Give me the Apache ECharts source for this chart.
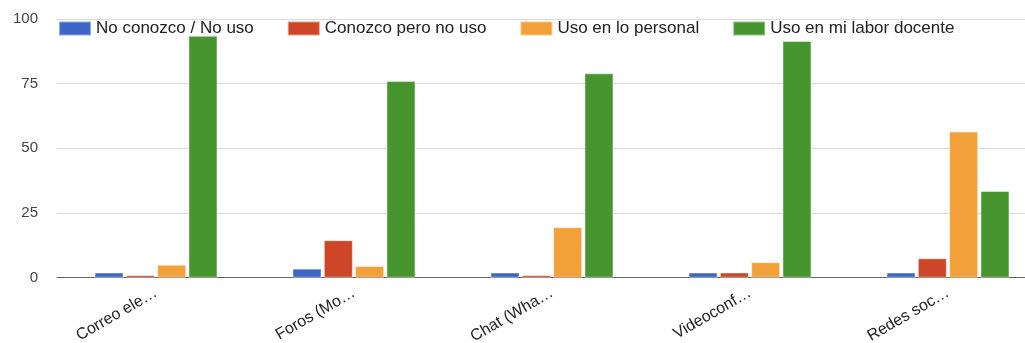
<!DOCTYPE html>
<html>
<head>
<meta charset="utf-8">
<style>
  html, body { margin: 0; padding: 0; background: #fff; }
  #chart { width: 1025px; height: 343px; }
</style>
<script src="https://cdn.jsdelivr.net/npm/echarts@6/dist/echarts.min.js"></script>
</head>
<body>
<div id="chart"></div>
<script>
// Tools, as shown along the category axis
const categories = ['Correo ele…', 'Foros (Mo…', 'Chat (Wha…', 'Videoconf…', 'Redes soc…'];

// Responses per tool (%)
const noConozco     = [2, 3.5, 2, 2, 2];
const conozcoNoUso  = [1, 14.5, 1, 2, 7.5];
const usoPersonal   = [5, 4.5, 19.5, 6, 56.5];
const usoDocente    = [93.5, 76, 79, 91.5, 33.5];

const seriesNames = ['No conozco / No uso', 'Conozco pero no uso', 'Uso en lo personal', 'Uso en mi labor docente'];
const seriesColors = ['#3d66c6', '#cc4627', '#f1a03a', '#46952f'];
const seriesData = [noConozco, conozcoNoUso, usoPersonal, usoDocente];

const yTicks = [0, 25, 50, 75, 100];

const font = '"Liberation Sans", Arial, sans-serif';

const chart = echarts.init(document.getElementById('chart'), null, { renderer: 'canvas' });

chart.setOption({
  animation: false,
  textStyle: { fontFamily: font },
  legend: {
    left: 58,
    top: 20,
    padding: 0,
    itemWidth: 32,
    itemHeight: 14,
    itemGap: 33,
    icon: 'rect',
    textStyle: { fontSize: 17, color: '#222', fontFamily: font },
    data: seriesNames
  },
  grid: {
    left: 57,
    top: 19,
    width: 990,
    height: 258.7,
    outerBoundsMode: 'none'
  },
  xAxis: {
    type: 'category',
    data: categories,
    axisLine: { lineStyle: { color: '#666', width: 1 } },
    axisTick: { show: false },
    axisLabel: {
      rotate: 30,
      margin: 14,
      fontSize: 16,
      color: '#222',
      fontFamily: font
    }
  },
  yAxis: {
    type: 'value',
    min: yTicks[0],
    max: yTicks[yTicks.length - 1],
    interval: 25,
    axisLine: { show: false },
    axisTick: { show: false },
    splitLine: { lineStyle: { color: '#d9d9d9', width: 1 } },
    axisLabel: {
      margin: 19,
      fontSize: 15,
      color: '#444',
      fontFamily: font
    }
  },
  series: seriesNames.map((name, i) => ({
    name: name,
    type: 'bar',
    data: seriesData[i],
    barWidth: 29,
    barGap: '8%',
    itemStyle: {
      color: seriesColors[i],
      borderColor: 'rgba(255,255,255,0.45)',
      borderWidth: 1
    }
  }))
});
</script>
</body>
</html>
